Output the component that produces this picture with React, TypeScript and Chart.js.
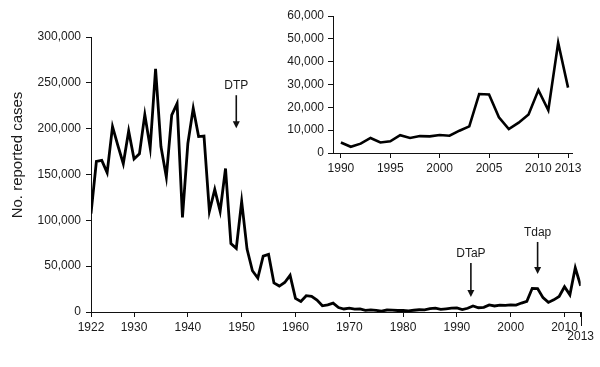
import React, { useEffect, useRef } from 'react';
import { Chart, registerables } from 'chart.js';

Chart.register(...registerables);

const years = [
  1922, 1923, 1924, 1925, 1926, 1927, 1928, 1929, 1930, 1931, 1932, 1933, 1934, 1935, 1936, 1937, 1938, 1939,
  1940, 1941, 1942, 1943, 1944, 1945, 1946, 1947, 1948, 1949, 1950, 1951, 1952, 1953, 1954, 1955, 1956, 1957,
  1958, 1959, 1960, 1961, 1962, 1963, 1964, 1965, 1966, 1967, 1968, 1969, 1970, 1971, 1972, 1973, 1974, 1975,
  1976, 1977, 1978, 1979, 1980, 1981, 1982, 1983, 1984, 1985, 1986, 1987, 1988, 1989, 1990, 1991, 1992, 1993,
  1994, 1995, 1996, 1997, 1998, 1999, 2000, 2001, 2002, 2003, 2004, 2005, 2006, 2007, 2008, 2009, 2010, 2011,
  2012, 2013,
];

const cases = [
  107473, 164191, 165418, 152003, 202210, 181411, 161799, 197371, 166914, 172559, 215343, 179135, 265269, 180518,
  147237, 214652, 227319, 103188, 183866, 222202, 191383, 191890, 109873, 133792, 109860, 156517, 74715, 69479,
  120718, 68687, 45030, 37129, 60886, 62786, 31732, 28295, 32148, 40005, 14809, 11468, 17749, 17135, 13005, 6799,
  7717, 9718, 4810, 3285, 4249, 3036, 3287, 1759, 2402, 1738, 1010, 2177, 2063, 1623, 1730, 1248, 1895, 2463,
  2276, 3589, 4195, 2823, 3450, 4157, 4570, 2719, 4083, 6586, 4617, 5137, 7796, 6564, 7405, 7288, 7867, 7580,
  9771, 11647, 25827, 25616, 15632, 10454, 13278, 16858, 27550, 18719, 48277, 28639,
];

const mainXTicks = [1922, 1930, 1940, 1950, 1960, 1970, 1980, 1990, 2000, 2010, 2013];
const mainYTicksStep = 50000;
const insetFirstYear = 1990;
const insetXTicks = [1990, 1995, 2000, 2005, 2010, 2013];
const insetYTicksStep = 10000;

const annotationLabels = ['DTP', 'DTaP', 'Tdap'];
const annotationYears = [1949, 1992.6, 2005];
const annotationTextValues = [246500, 63300, 86200];
const annotationArrowTop = [236500, 53500, 76400];
const annotationArrowTip = [200500, 16300, 41400];

const yTitle = 'No. reported cases';

const FONT = "'Liberation Sans', Arial, Helvetica, sans-serif";
const INK = '#1a1a1a';

const fmt = (v: number) => Number(v).toLocaleString('en-US');

export default function App() {
  const mainRef = useRef<HTMLCanvasElement>(null);
  const insetRef = useRef<HTMLCanvasElement>(null);

  useEffect(() => {
    const mainData = years.map((yr, i) => ({ x: yr, y: cases[i] }));
    const insetData = years
      .map((yr, i) => ({ x: yr, y: cases[i] }))
      .filter((p) => p.x >= insetFirstYear);

    const mainPlugin = {
      id: 'mainExtras',
      afterDraw(chart: any) {
        const ctx = chart.ctx;
        const xs = chart.scales.x;
        const ys = chart.scales.y;
        ctx.save();
        // long tick at 2013
        const x13 = xs.getPixelForValue(2013);
        ctx.strokeStyle = '#111';
        ctx.lineWidth = 1;
        ctx.beginPath();
        ctx.moveTo(Math.round(x13) + 0.5, ys.bottom);
        ctx.lineTo(Math.round(x13) + 0.5, ys.bottom + 14);
        ctx.stroke();

        // y title
        ctx.fillStyle = INK;
        ctx.font = `15px ${FONT}`;
        ctx.textAlign = 'center';
        ctx.textBaseline = 'middle';
        ctx.save();
        ctx.translate(18, 155);
        ctx.rotate(-Math.PI / 2);
        ctx.fillText(yTitle, 0, 0);
        ctx.restore();

        // annotations
        ctx.font = `12px ${FONT}`;
        annotationLabels.forEach((lab, i) => {
          const x = xs.getPixelForValue(annotationYears[i]);
          const ty = ys.getPixelForValue(annotationTextValues[i]);
          const a0 = ys.getPixelForValue(annotationArrowTop[i]);
          const a1 = ys.getPixelForValue(annotationArrowTip[i]);
          ctx.fillStyle = INK;
          ctx.fillText(lab, x, ty);
          ctx.strokeStyle = '#111';
          ctx.lineWidth = 1.6;
          ctx.beginPath();
          ctx.moveTo(x, a0);
          ctx.lineTo(x, a1 - 5);
          ctx.stroke();
          ctx.fillStyle = '#111';
          ctx.beginPath();
          ctx.moveTo(x - 3.5, a1 - 7);
          ctx.lineTo(x + 3.5, a1 - 7);
          ctx.lineTo(x, a1);
          ctx.closePath();
          ctx.fill();
        });
        ctx.restore();
      },
    };

    const axisCommon = {
      grid: { drawOnChartArea: false, drawTicks: true, tickLength: 5, color: '#111', lineWidth: 1 },
      border: { display: true, color: '#111', width: 1 },
    };

    const main = new Chart(mainRef.current as HTMLCanvasElement, {
      type: 'line',
      data: {
        datasets: [
          {
            data: mainData,
            borderColor: '#000',
            borderWidth: 2.8,
            pointRadius: 0,
            tension: 0,
            fill: false,
          },
        ],
      },
      options: {
        animation: false,
        responsive: false,
        maintainAspectRatio: false,
        layout: { padding: { left: 0, top: 37, right: 19, bottom: 0 } },
        plugins: { legend: { display: false }, tooltip: { enabled: false } },
        scales: {
          x: {
            type: 'linear',
            min: 1922,
            max: 2013,
            ...axisCommon,
            afterBuildTicks: (s: any) => {
              s.ticks = mainXTicks.map((v) => ({ value: v }));
            },
            afterFit: (s: any) => {
              s.height = 55;
            },
            ticks: {
              autoSkip: false,
              maxRotation: 0,
              minRotation: 0,
              padding: 6,
              color: INK,
              font: { size: 12, family: FONT, lineHeight: 0.75 },
              callback: (v: any) => (Number(v) === 2013 ? ['', '2013'] : String(v)),
            },
          },
          y: {
            type: 'linear',
            min: 0,
            max: 300000,
            ...axisCommon,
            afterFit: (s: any) => {
              s.width = 91;
            },
            ticks: {
              stepSize: mainYTicksStep,
              padding: 5,
              color: INK,
              font: { size: 12, family: FONT },
              callback: (v: any) => fmt(v),
            },
          },
        },
      },
      plugins: [mainPlugin],
    } as any);

    const inset = new Chart(insetRef.current as HTMLCanvasElement, {
      type: 'line',
      data: {
        datasets: [
          {
            data: insetData,
            borderColor: '#000',
            borderWidth: 2.6,
            pointRadius: 0,
            tension: 0,
            fill: false,
          },
        ],
      },
      options: {
        animation: false,
        responsive: false,
        maintainAspectRatio: false,
        layout: { padding: { left: 0, top: 16, right: 28, bottom: 0 } },
        plugins: { legend: { display: false }, tooltip: { enabled: false } },
        scales: {
          x: {
            type: 'linear',
            min: 1989.2,
            max: 2013.4,
            ...axisCommon,
            afterBuildTicks: (s: any) => {
              s.ticks = insetXTicks.map((v) => ({ value: v }));
            },
            afterFit: (s: any) => {
              s.height = 32;
            },
            ticks: {
              autoSkip: false,
              maxRotation: 0,
              minRotation: 0,
              padding: 3,
              color: INK,
              font: { size: 12, family: FONT },
              callback: (v: any) => String(v),
            },
          },
          y: {
            type: 'linear',
            min: 0,
            max: 60000,
            ...axisCommon,
            afterFit: (s: any) => {
              s.width = 53;
            },
            ticks: {
              stepSize: insetYTicksStep,
              padding: 4,
              color: INK,
              font: { size: 12, family: FONT },
              callback: (v: any) => fmt(v),
            },
          },
        },
      },
    } as any);

    return () => {
      main.destroy();
      inset.destroy();
    };
  }, []);

  return (
    <div style={{ position: 'fixed', left: 0, top: 0, width: 600, height: 367, background: '#fff' }}>
      <canvas
        ref={mainRef}
        width={600}
        height={367}
        style={{ position: 'absolute', left: 0, top: 0, width: 600, height: 367 }}
      />
      <canvas
        ref={insetRef}
        width={320}
        height={185}
        style={{ position: 'absolute', left: 280, top: 0, width: 320, height: 185 }}
      />
    </div>
  );
}
